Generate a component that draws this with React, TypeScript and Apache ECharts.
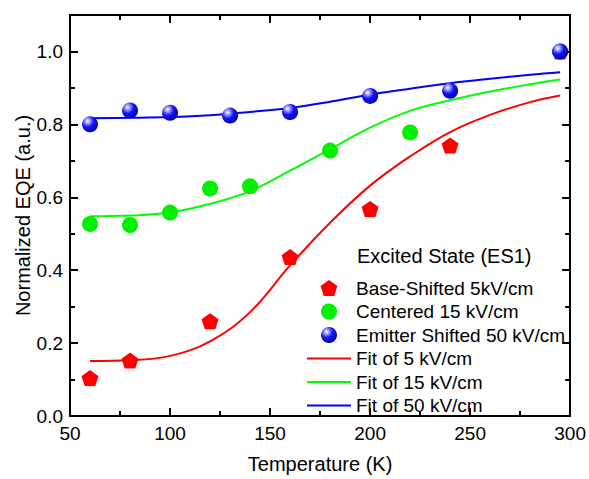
import React, { useEffect, useRef } from "react";
import * as echarts from "echarts";

const fitT = [60, 80, 100, 120, 140, 160, 180, 200, 220, 240, 260, 280, 295];
const fit5 = [0.151, 0.153, 0.165, 0.205, 0.285, 0.413, 0.53, 0.632, 0.712, 0.779, 0.826, 0.861, 0.879];
const fit15 = [0.548, 0.55, 0.558, 0.582, 0.617, 0.673, 0.732, 0.791, 0.837, 0.866, 0.89, 0.91, 0.923];
const fit50 = [0.817, 0.818, 0.82, 0.825, 0.834, 0.845, 0.862, 0.882, 0.898, 0.913, 0.925, 0.936, 0.943];

const baseT = [60, 80, 120, 160, 200, 240, 295];
const baseV = [0.104, 0.152, 0.26, 0.436, 0.568, 0.742, 1.0];
const centT = [60, 80, 100, 120, 140, 180, 220, 295];
const centV = [0.527, 0.524, 0.558, 0.624, 0.63, 0.728, 0.778, 1.0];
const emitT = [60, 80, 100, 130, 160, 200, 240, 295];
const emitV = [0.8, 0.838, 0.832, 0.824, 0.834, 0.878, 0.892, 1.0];

const yMajor = [0, 0.2, 0.4, 0.6, 0.8, 1.0];
const yMinor = [0.1, 0.3, 0.5, 0.7, 0.9];

const names = [
  "Base-Shifted 5kV/cm",
  "Centered 15 kV/cm",
  "Emitter Shifted 50 kV/cm",
  "Fit of 5 kV/cm",
  "Fit of 15 kV/cm",
  "Fit of 50 kV/cm",
];

const FONT = "'Liberation Sans', Arial, sans-serif";
const pentagon = "path://M0,-1L0.951,-0.309L0.588,0.809L-0.588,0.809L-0.951,-0.309Z";
const lineIcon = "path://M0,0L44,0L44,2L0,2Z";

const zip = (a: number[], b: number[]) => a.map((x, i) => [x, b[i]]);

export default function App() {
  const ref = useRef<HTMLDivElement>(null);
  useEffect(() => {
    if (!ref.current) return;
    const chart = echarts.init(ref.current, null, { renderer: "svg" });
    const axisLine = { show: true, onZero: false, lineStyle: { color: "#000", width: 2 } };
    const xBase = (pos: string, labels: boolean) => ({
      type: "value",
      min: 50,
      max: 300,
      interval: 50,
      position: pos,
      axisLine,
      axisTick: { show: true, inside: true, length: 8, lineStyle: { color: "#000", width: 2 } },
      minorTick: { show: true, splitNumber: 2, length: 5, lineStyle: { color: "#000", width: 2 } },
      axisLabel: { show: labels, fontSize: 19, color: "#000", fontFamily: FONT, margin: 8 },
      splitLine: { show: false },
    });
    const yBase = (pos: string, ticks: number[], len: number, labels: boolean, line: boolean) => ({
      type: "value",
      min: 0,
      max: 1.1,
      position: pos,
      axisLine: { ...axisLine, show: line },
      axisTick: { show: true, inside: true, length: len, customValues: ticks, lineStyle: { color: "#000", width: 2 } },
      axisLabel: {
        show: labels,
        customValues: ticks,
        formatter: (v: number) => v.toFixed(1),
        fontSize: 19,
        color: "#000",
        fontFamily: FONT,
        margin: 7,
      },
      splitLine: { show: false },
    });
    const yMain: any = yBase("left", yMajor, 8, true, true);
    yMain.name = "Normalized EQE (a.u.)";
    yMain.nameLocation = "middle";
    yMain.nameGap = 37;
    yMain.nameMoveOverlap = false;
    yMain.nameTextStyle = { fontSize: 20, color: "#000", fontFamily: FONT };
    const xMain: any = xBase("bottom", true);
    xMain.name = "Temperature (K)";
    xMain.nameLocation = "middle";
    xMain.nameGap = 38;
    xMain.nameMoveOverlap = false;
    xMain.nameTextStyle = { fontSize: 20, color: "#000", fontFamily: FONT };

    const sphere = {
      type: "radial",
      x: 0.35,
      y: 0.3,
      r: 0.75,
      colorStops: [
        { offset: 0, color: "#ffffff" },
        { offset: 0.18, color: "#a8a8ff" },
        { offset: 0.5, color: "#1515f5" },
        { offset: 1, color: "#0000a8" },
      ],
    };

    const lineSeries = (name: string, vals: number[], color: string) => ({
      type: "line",
      name,
      data: zip(fitT, vals),
      smooth: 0.4,
      symbol: "none",
      showSymbol: false,
      lineStyle: { color, width: 2 },
      itemStyle: { color },
      z: 2,
    });

    chart.setOption({
      animation: false,
      backgroundColor: "#fff",
      grid: { left: 70, top: 15, right: 17, bottom: 58 },
      title: {
        text: "Excited State (ES1)",
        left: 357,
        top: 246,
        padding: 0,
        textStyle: { fontSize: 20, fontWeight: "normal", color: "#000", fontFamily: FONT, lineHeight: 20 },
      },
      legend: {
        orient: "vertical",
        left: 307,
        top: 278,
        padding: 0,
        itemWidth: 44,
        itemHeight: 16,
        itemGap: 3.5,
        textStyle: { fontSize: 19, color: "#000", fontFamily: FONT, lineHeight: 20 },
        data: [
          { name: names[0] },
          { name: names[1] },
          { name: names[2] },
          { name: names[3], icon: lineIcon },
          { name: names[4], icon: lineIcon },
          { name: names[5], icon: lineIcon },
        ],
      },
      xAxis: [xMain, xBase("top", false)],
      yAxis: [
        yMain,
        yBase("left", yMinor, 5, false, false),
        yBase("right", yMajor, 8, false, true),
        yBase("right", yMinor, 5, false, false),
      ],
      series: [
        lineSeries(names[3], fit5, "#ff0000"),
        lineSeries(names[4], fit15, "#00ff00"),
        lineSeries(names[5], fit50, "#0000ff"),
        {
          type: "scatter",
          name: names[0],
          data: zip(baseT, baseV),
          symbol: pentagon,
          symbolSize: [17, 16],
          itemStyle: { color: "#ff0000", opacity: 1 },
          z: 3,
        },
        {
          type: "scatter",
          name: names[1],
          data: zip(centT, centV),
          symbol: "circle",
          symbolSize: 16,
          itemStyle: { color: "#00f000", opacity: 1 },
          z: 4,
        },
        {
          type: "scatter",
          name: names[2],
          data: zip(emitT, emitV),
          symbol: "circle",
          symbolSize: 16,
          itemStyle: { color: sphere, opacity: 1 },
          z: 5,
        },
      ],
    });
    return () => chart.dispose();
  }, []);
  return <div ref={ref} style={{ width: 589, height: 479, position: "absolute", left: 0, top: 0 }} />;
}
